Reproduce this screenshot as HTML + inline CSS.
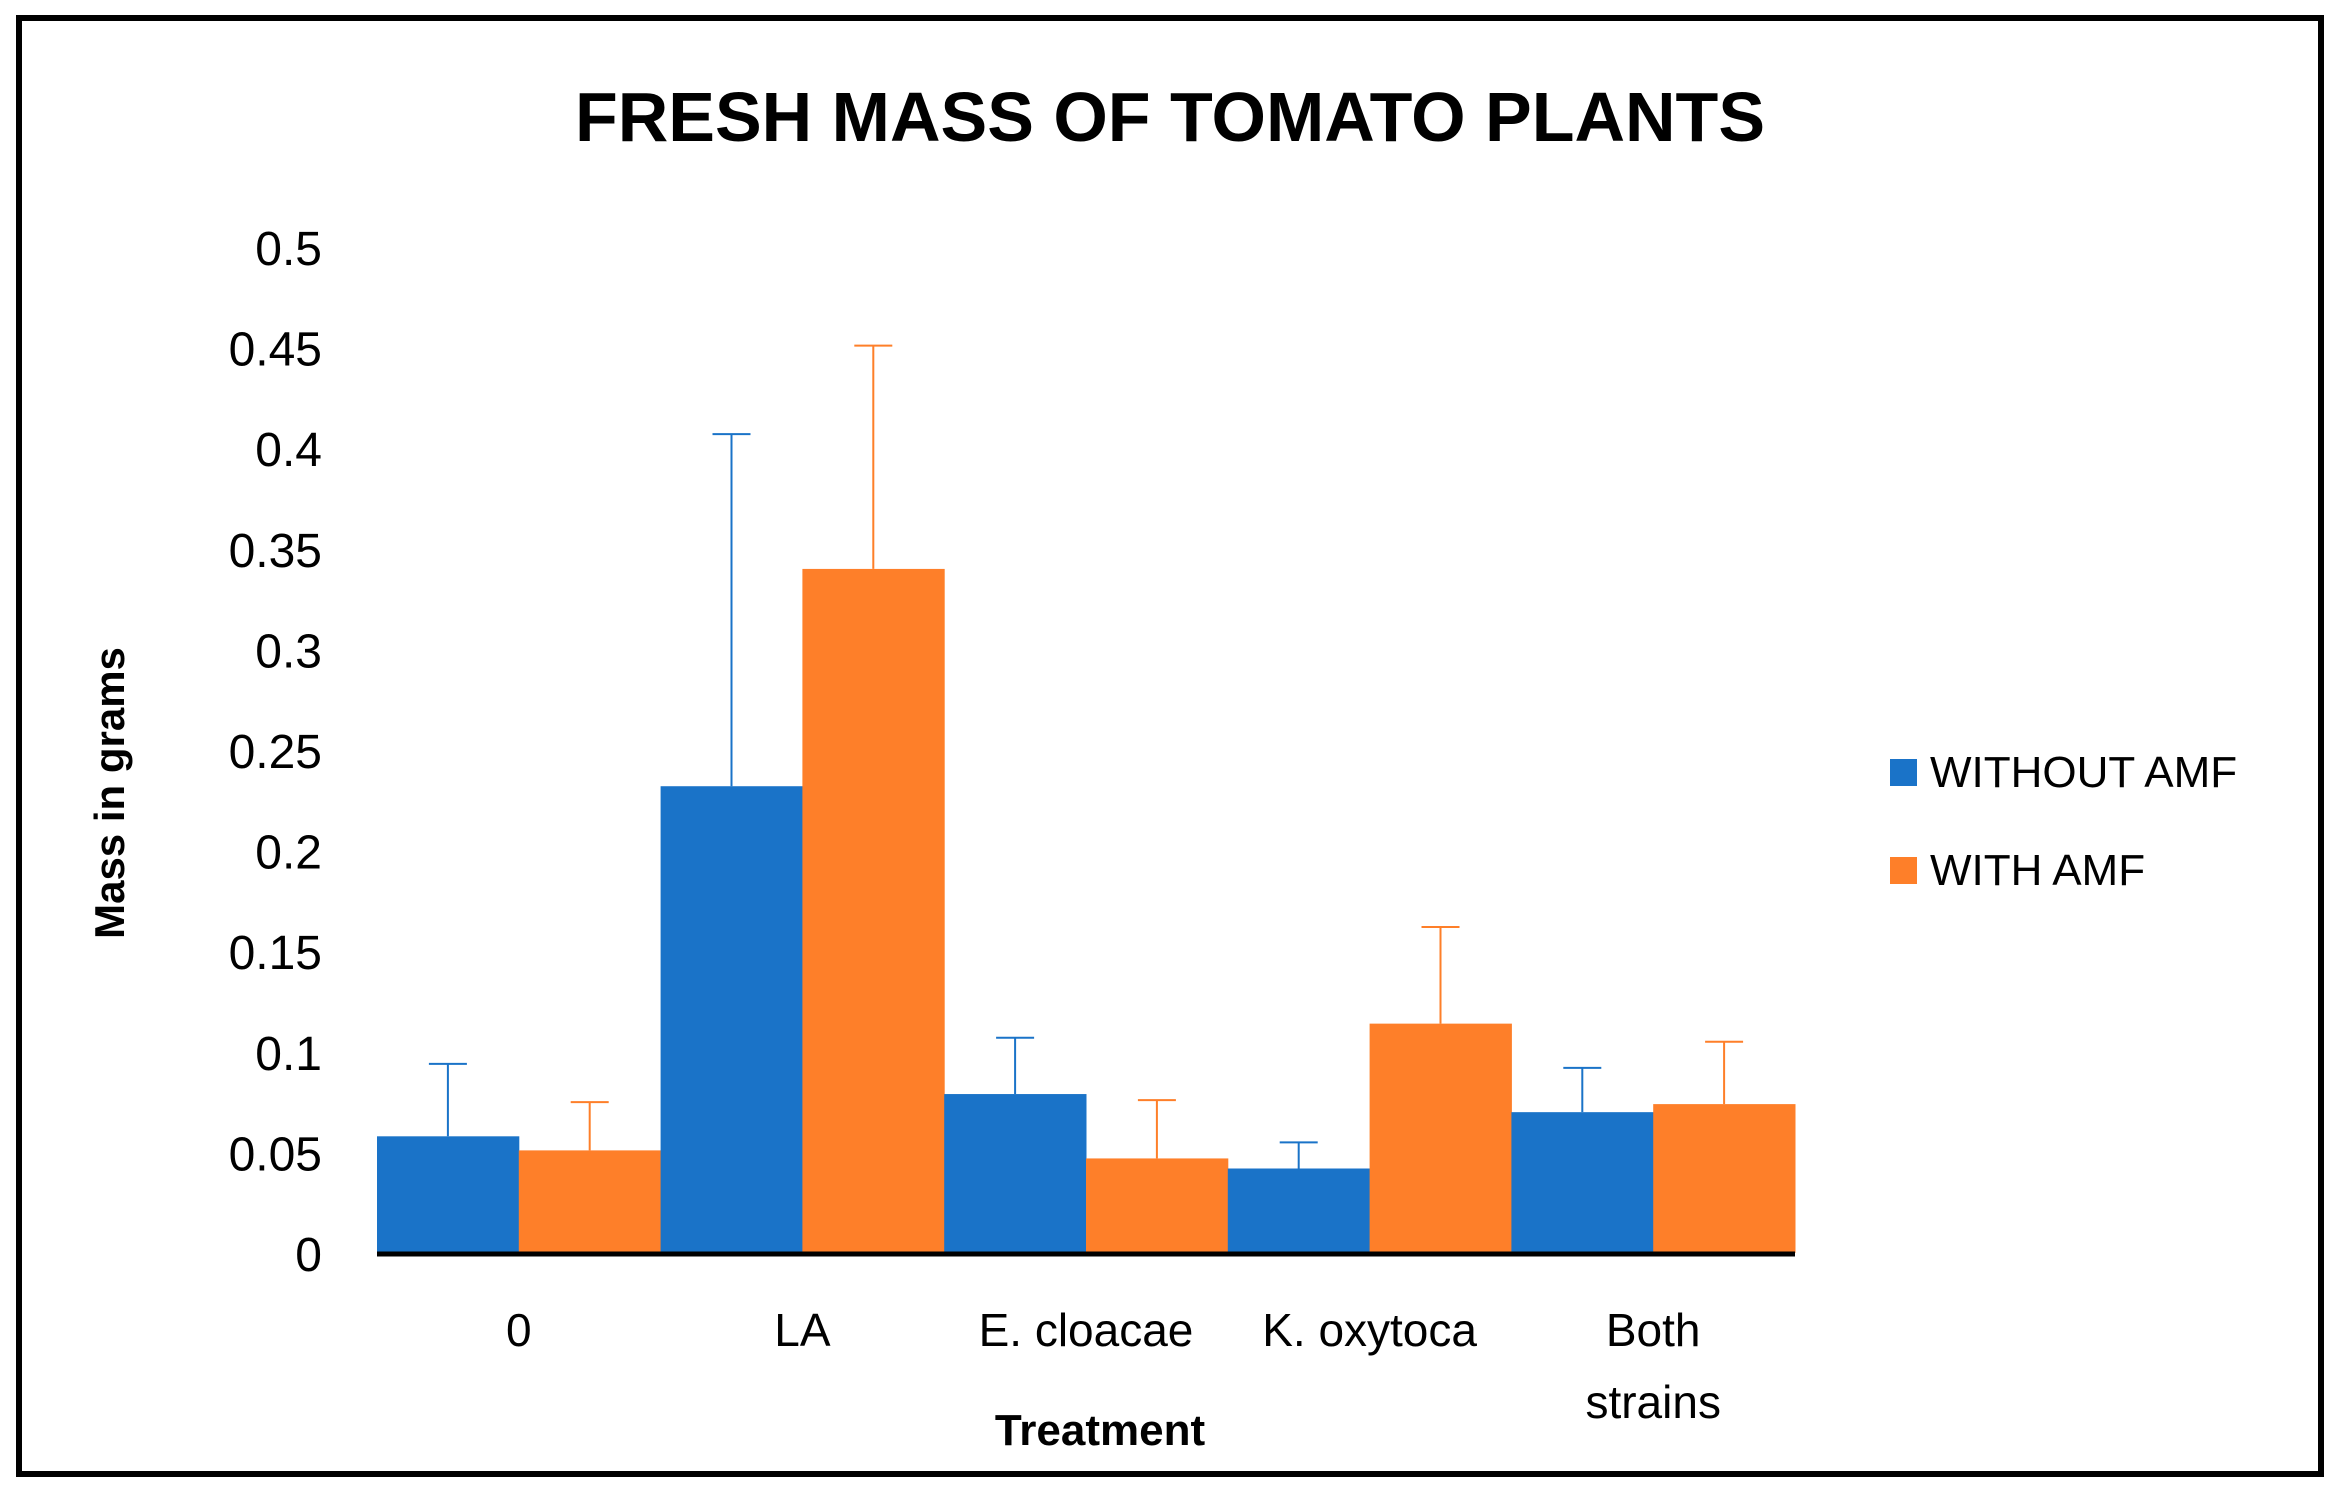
<!DOCTYPE html>
<html><head><meta charset="utf-8"><style>
body{margin:0;background:#fff}
svg text{font-family:"Liberation Sans",sans-serif}
</style></head><body>
<svg id="chart" width="2335" height="1495" xmlns="http://www.w3.org/2000/svg">
<rect x="19" y="18" width="2302" height="1456" fill="#fff" stroke="#000" stroke-width="6"/>
<text x="1170" y="141" font-size="70" font-weight="bold" text-anchor="middle">FRESH MASS OF TOMATO PLANTS</text>
<text transform="translate(124,793) rotate(-90)" font-size="42" font-weight="bold" text-anchor="middle">Mass in grams</text>
<text x="1100" y="1445" font-size="44" font-weight="bold" text-anchor="middle">Treatment</text>
<g id="yticks"></g><g id="bars"></g><g id="xlabels"></g>
<line x1="377" y1="1254" x2="1795" y2="1254" stroke="#000" stroke-width="5"/>
<rect x="1890" y="759" width="27" height="27" fill="#1a73c8"/>
<text x="1930" y="787" font-size="44">WITHOUT AMF</text>
<rect x="1890" y="857" width="27" height="27" fill="#fe7f29"/>
<text x="1930" y="885" font-size="44">WITH AMF</text>
</svg>
<script>
const categories=[["0"],["LA"],["E. cloacae"],["K. oxytoca"],["Both","strains"]];
const withoutAmf=[0.058,0.232,0.079,0.042,0.070];
const withoutAmfErr=[0.036,0.175,0.028,0.013,0.022];
const withAmf=[0.051,0.340,0.047,0.114,0.074];
const withAmfErr=[0.024,0.111,0.029,0.048,0.031];
const yTicks=["0","0.05","0.1","0.15","0.2","0.25","0.3","0.35","0.4","0.45","0.5"];
const NS="http://www.w3.org/2000/svg";
const X0=377,X1=1795,Y0=1253,Y1=247,YMAX=0.5;
const y=v=>Y0-(v/YMAX)*(Y0-Y1);
const gw=(X1-X0)/categories.length;
function mk(tag,attrs,parent){const e=document.createElementNS(NS,tag);for(const k in attrs)e.setAttribute(k,attrs[k]);parent.appendChild(e);return e;}
const yt=document.getElementById('yticks');
yTicks.forEach(t=>{const e=mk('text',{x:322,y:y(parseFloat(t))+18,'font-size':48,'text-anchor':'end'},yt);


e.textContent=t;});
const bars=document.getElementById('bars');
const series=[[withoutAmf,withoutAmfErr,'#1a73c8','without-amf'],[withAmf,withAmfErr,'#fe7f29','with-amf']];
categories.forEach((c,i)=>{
 series.forEach((s,j)=>{
  const v=s[0][i],err=s[1][i],bw=gw/2,bx=X0+i*gw+j*bw;
  const r=mk('rect',{x:bx,y:y(v),width:bw+0.5,height:Y0-y(v),fill:s[2]},bars);
  
  
  const cx=bx+bw/2,top=y(v+err);
  const l=mk('path',{d:`M${cx},${y(v)}V${top}M${cx-19},${top}H${cx+19}`,stroke:s[2],'stroke-width':2,fill:'none'},bars);
  
  
 });
 const xl=document.getElementById('xlabels');
 c.forEach((line,k)=>{const t=mk('text',{x:X0+i*gw+gw/2,y:1346+k*72,'font-size':46,'text-anchor':'middle'},xl);
 
 
 t.textContent=line;});
});
</script>
</body></html>
